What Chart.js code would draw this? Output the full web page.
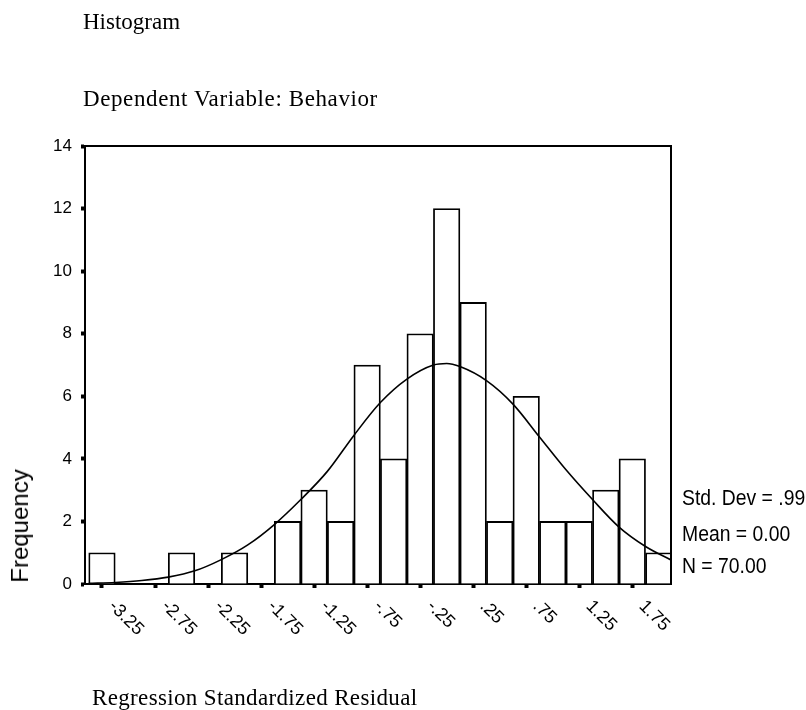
<!DOCTYPE html>
<html>
<head>
<meta charset="utf-8">
<script src="https://cdn.jsdelivr.net/npm/chart.js@4.4.1/dist/chart.umd.min.js"></script>
<style>
  html, body { margin: 0; padding: 0; background: #fff; }
  #wrap { position: relative; width: 806px; height: 710px; overflow: hidden; background: #fff; }
  canvas { position: absolute; left: 0; top: 0; }
  .t { position: absolute; white-space: nowrap; color: #000; line-height: normal; }
  .serif { font-family: "Liberation Serif", "Times New Roman", serif; font-size: 23px; }
  .stat { font-family: "Liberation Sans", Arial, sans-serif; font-size: 22px; transform: scaleX(0.88); transform-origin: 0 0; }
  #ylab { font-family: "Liberation Sans", Arial, sans-serif; font-size: 24px; line-height: 24px;
          left: 20px; top: 526px; transform: translate(-50%, -50%) rotate(-90deg); }
</style>
</head>
<body>
<div id="wrap">
  <canvas id="c" width="806" height="710"></canvas>
  <div class="t serif" style="left:83px; top:9px;">Histogram</div>
  <div class="t serif" style="left:83px; top:86px; letter-spacing:0.6px;">Dependent Variable: Behavior</div>
  <div class="t serif" style="left:92px; top:685px; letter-spacing:0.35px;">Regression Standardized Residual</div>
  <div class="t" id="ylab">Frequency</div>
  <div class="t stat" style="left:682px; top:485px;">Std. Dev = .99</div>
  <div class="t stat" style="left:682px; top:521px;">Mean = 0.00</div>
  <div class="t stat" style="left:682px; top:553px;">N = 70.00</div>
</div>
<script>
// ---- data ----
const binCenters = [-3.25, -3.0, -2.75, -2.5, -2.25, -2.0, -1.75, -1.5, -1.25, -1.0, -0.75,
                    -0.5, -0.25, 0.0, 0.25, 0.5, 0.75, 1.0, 1.25, 1.5, 1.75, 2.0];
const frequencies = [1, 0, 0, 1, 0, 1, 0, 2, 3, 2, 7, 4, 8, 12, 9, 2, 6, 2, 2, 3, 4, 1];

// normal curve
const curveX = [-3.375, -3.125, -2.875, -2.625, -2.375, -2.125, -1.875, -1.625, -1.375, -1.125,
                -0.875, -0.625, -0.375, -0.125, 0.0, 0.125, 0.375, 0.625, 0.875, 1.125,
                1.375, 1.625, 1.875, 2.125];
const curveY = [0.02, 0.05, 0.11, 0.22, 0.42, 0.78, 1.25, 1.9, 2.7, 3.6,
                4.75, 5.8, 6.55, 7.0, 7.05, 6.95, 6.5, 5.75, 4.7, 3.65,
                2.7, 1.82, 1.2, 0.75];

const xTickValues = [-3.25, -2.75, -2.25, -1.75, -1.25, -0.75, -0.25, 0.25, 0.75, 1.25, 1.75];
const xTickLabels = ["-3.25", "-2.75", "-2.25", "-1.75", "-1.25", "-.75", "-.25", ".25", ".75", "1.25", "1.75"];
const yTickValues = [0, 2, 4, 6, 8, 10, 12, 14];

const barData = binCenters.map((x, i) => ({ x: x, y: frequencies[i] }));
const curveData = curveX.map((x, i) => ({ x: x, y: curveY[i] }));

const frameAndLabels = {
  id: 'frameAndLabels',
  afterDraw(chart) {
    const { ctx, chartArea: a, scales } = chart;
    const xs = scales.x;
    ctx.save();
    ctx.strokeStyle = '#000';
    ctx.lineWidth = 2;
    ctx.beginPath();
    ctx.moveTo(a.left, a.top);
    ctx.lineTo(a.right, a.top);
    ctx.lineTo(a.right, a.bottom);
    ctx.stroke();
    ctx.fillStyle = '#000';
    ctx.font = '18px "Liberation Sans", Arial, sans-serif';
    ctx.textAlign = 'left';
    ctx.textBaseline = 'alphabetic';
    xTickValues.forEach((v, i) => {
      const px = xs.getPixelForValue(v);
      ctx.save();
      ctx.translate(px + 6, a.bottom + 23);
      ctx.rotate(Math.PI / 4);
      ctx.fillText(xTickLabels[i], 0, 0);
      ctx.restore();
    });
    ctx.restore();
  }
};

new Chart(document.getElementById('c'), {
  type: 'bar',
  data: {
    datasets: [
      {
        type: 'line',
        data: curveData,
        borderColor: '#000',
        borderWidth: 1.6,
        pointRadius: 0,
        fill: false,
        tension: 0.4,
        cubicInterpolationMode: 'monotone',
        order: 0
      },
      {
        type: 'bar',
        data: barData,
        backgroundColor: '#fff',
        borderColor: '#000',
        borderWidth: 1.8,
        barPercentage: 1.0,
        categoryPercentage: 1.0,
        order: 1
      }
    ]
  },
  options: {
    responsive: false,
    animation: false,
    events: [],
    layout: { padding: { left: 45, top: 146, right: 135, bottom: 86 } },
    plugins: { legend: { display: false }, tooltip: { enabled: false }, title: { display: false } },
    scales: {
      x: {
        type: 'linear',
        min: -3.41,
        max: 2.115,
        offset: false,
        afterBuildTicks: (scale) => { scale.ticks = xTickValues.map(v => ({ value: v })); },
        afterFit: (scale) => { scale.height = 40; },
        ticks: { display: false },
        grid: { display: true, offset: false, drawOnChartArea: false, drawTicks: true,
                tickLength: 4, tickWidth: 4, color: '#000' },
        border: { display: true, color: '#000', width: 2 }
      },
      y: {
        type: 'linear',
        min: 0,
        max: 14,
        afterBuildTicks: (scale) => { scale.ticks = yTickValues.map(v => ({ value: v })); },
        afterFit: (scale) => { scale.width = 40; },
        ticks: { color: '#000', padding: 9, font: { family: '"Liberation Sans", Arial, sans-serif', size: 17 } },
        grid: { display: true, drawOnChartArea: false, drawTicks: true,
                tickLength: 4, tickWidth: 4, color: '#000' },
        border: { display: true, color: '#000', width: 2 }
      }
    }
  },
  plugins: [frameAndLabels]
});
</script>
</body>
</html>
